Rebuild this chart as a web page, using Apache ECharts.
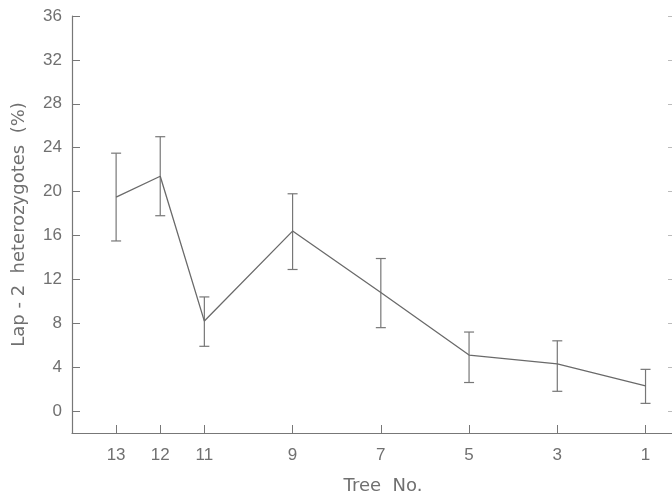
<!DOCTYPE html>
<html>
<head>
<meta charset="utf-8">
<script src="https://cdn.jsdelivr.net/npm/echarts@6/dist/echarts.min.js"></script>
<style>html,body{margin:0;padding:0;background:#fff;}#c{width:672px;height:495px;}</style>
</head>
<body>
<div id="c"></div>
<script>
var trees = [13, 12, 11, 9, 7, 5, 3, 1];
var means = [19.5, 21.4, 8.2, 16.4, 10.8, 5.1, 4.3, 2.3];
var upper = [23.5, 25.0, 10.4, 19.8, 13.9, 7.2, 6.4, 3.8];
var lower = [15.5, 17.8, 5.9, 12.9, 7.6, 2.6, 1.8, 0.7];
var yTicks = [0, 4, 8, 12, 16, 20, 24, 28, 32, 36];
var xTicks = [13, 12, 11, 9, 7, 5, 3, 1];

var chart = echarts.init(document.getElementById('c'));
var lineCol = '#6a6a6a';
var textCol = '#707070';
var font = 'Liberation Sans';
var nameFont = 'DejaVu Sans';

var errData = trees.map(function (t, i) { return [t, lower[i], upper[i]]; });
var meanData = trees.map(function (t, i) { return [t, means[i]]; });

chart.setOption({
  animation: false,
  grid: { left: 72, right: 0, top: 16, bottom: 62, containLabel: false, outerBoundsMode: 'none' },
  xAxis: {
    type: 'value', inverse: true, min: 0.4, max: 14,
    name: 'Tree  No.', nameLocation: 'middle', nameGap: 44,
    nameTextStyle: { color: textCol, fontSize: 18, fontFamily: nameFont, padding: [0, 0, 0, 22] },
    axisLine: { show: true, onZero: false, lineStyle: { color: '#777', width: 1.2 } },
    axisTick: { show: true, inside: true, length: 8, customValues: xTicks, lineStyle: { color: '#777' } },
    axisLabel: { show: true, customValues: xTicks, color: textCol, fontSize: 17, fontFamily: font, margin: 14 },
    splitLine: { show: false }
  },
  yAxis: [{
    type: 'value', min: -2, max: 36,
    name: 'Lap - 2  heterozygotes  (%)', nameLocation: 'middle', nameGap: 44, nameRotate: 90,
    nameTextStyle: { color: textCol, fontSize: 18, fontFamily: nameFont },
    axisLine: { show: true, onZero: false, lineStyle: { color: '#777', width: 1.2 } },
    axisTick: { show: true, inside: true, length: 8, customValues: yTicks, lineStyle: { color: '#777' } },
    axisLabel: { show: true, customValues: yTicks, color: textCol, fontSize: 17, fontFamily: font, margin: 10 },
    splitLine: { show: false }
  }, {
    type: 'value', min: -2, max: 36, position: 'right',
    axisLine: { show: false, onZero: false },
    axisTick: { show: true, inside: true, length: 4, customValues: yTicks, lineStyle: { color: '#bbb' } },
    axisLabel: { show: false },
    splitLine: { show: false }
  }],
  series: [{
    type: 'custom',
    data: errData,
    renderItem: function (params, api) {
      var x = api.value(0);
      var lo = api.coord([x, api.value(1)]);
      var hi = api.coord([x, api.value(2)]);
      var hw = 5;
      var st = { stroke: '#777', lineWidth: 1.2, fill: null };
      return {
        type: 'group',
        children: [
          { type: 'line', shape: { x1: lo[0], y1: lo[1], x2: hi[0], y2: hi[1] }, style: st },
          { type: 'line', shape: { x1: lo[0] - hw, y1: lo[1], x2: lo[0] + hw, y2: lo[1] }, style: st },
          { type: 'line', shape: { x1: hi[0] - hw, y1: hi[1], x2: hi[0] + hw, y2: hi[1] }, style: st }
        ]
      };
    },
    z: 2
  }, {
    type: 'line',
    data: meanData,
    showSymbol: false,
    symbol: 'none',
    lineStyle: { color: lineCol, width: 1.3 },
    z: 3
  }]
});
</script>
</body>
</html>
